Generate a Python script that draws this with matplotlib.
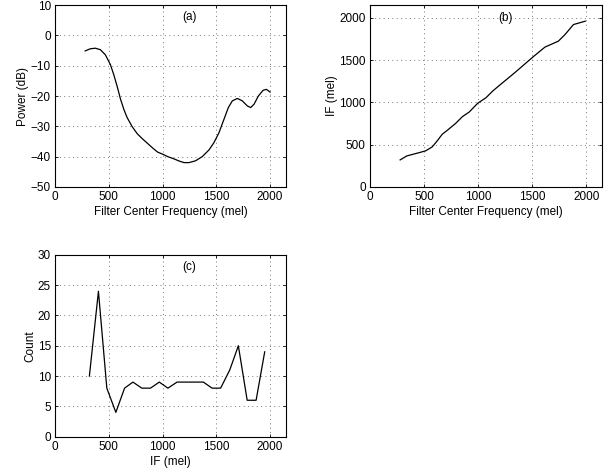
import matplotlib
matplotlib.use("Agg")
import matplotlib.pyplot as plt
import numpy as np

plt.rcParams['font.family'] = ['Liberation Sans', 'DejaVu Sans']
plt.rcParams['font.size'] = 8.5

# (a) power vs filter centre frequency
freq_a = [281, 328, 375, 422, 469, 516, 547, 578, 609, 641, 672, 719, 766, 812, 859,
          906, 953, 1000, 1047, 1109, 1156, 1200, 1245, 1307, 1370, 1432, 1478, 1525,
          1571, 1612, 1649, 1696, 1742, 1789, 1820, 1851, 1891, 1935, 1966, 2000]
power_a = [-5.1, -4.4, -4.2, -4.7, -6.4, -9.7, -13.0, -16.8, -21.0, -24.5, -27.2,
           -30.2, -32.5, -34.1, -35.6, -37.1, -38.5, -39.2, -40.0, -40.8, -41.5, -42.0,
           -42.0, -41.4, -40.0, -37.8, -35.4, -32.1, -27.7, -23.8, -21.6, -20.8, -21.6,
           -23.3, -23.8, -22.7, -20.0, -18.1, -17.8, -18.7]

# (b) IF vs filter centre frequency
freq_b = [279, 341, 435, 513, 575, 621, 668, 715, 793, 855, 918, 995, 1073, 1135,
          1197, 1338, 1509, 1618, 1742, 1804, 1882, 1991]
if_b = [319, 366, 398, 425, 472, 543, 622, 669, 752, 831, 886, 988, 1055, 1134,
        1201, 1350, 1539, 1654, 1724, 1803, 1921, 1961]

# (c) histogram counts of IF
if_c = [320, 404, 482, 566, 647, 725, 807, 888, 970, 1050, 1135, 1215, 1300, 1380,
        1460, 1540, 1625, 1705, 1787, 1870, 1950]
count_c = [10, 24, 8, 4, 8, 9, 8, 8, 9, 8, 9, 9, 9, 9, 8, 8, 11, 15, 6, 6, 14]


def style(ax):
    ax.grid(True, linestyle=(0, (1, 3.5)), color='#777777', linewidth=0.7)
    ax.tick_params(direction='in', top=True, right=True, length=2, width=0.6, pad=3)
    for s in ax.spines.values():
        s.set_linewidth(0.8)
    ax.set_xlim(0, 2150)
    ax.set_xticks([0, 500, 1000, 1500, 2000])


fig = plt.figure(figsize=(6.15, 4.73), dpi=100)

ax1 = fig.add_axes([0.0894, 0.605, 0.376, 0.384])
ax1.plot(freq_a, power_a, color='black', linewidth=0.9)
style(ax1)
ax1.set_ylim(-50, 10)
ax1.set_yticks(np.arange(-50, 11, 10))
ax1.set_xlabel('Filter Center Frequency (mel)', labelpad=2)
ax1.set_ylabel('Power (dB)', labelpad=1)
ax1.text(1250, 6.2, '(a)', ha='center', va='center')

ax2 = fig.add_axes([0.6016, 0.605, 0.378, 0.384])
ax2.plot(freq_b, if_b, color='black', linewidth=0.9)
style(ax2)
ax2.set_ylim(0, 2150)
ax2.set_yticks([0, 500, 1000, 1500, 2000])
ax2.set_xlabel('Filter Center Frequency (mel)', labelpad=2)
ax2.set_ylabel('IF (mel)', labelpad=1)
ax2.text(1250, 2000, '(b)', ha='center', va='center')

ax3 = fig.add_axes([0.0894, 0.077, 0.376, 0.384])
ax3.plot(if_c, count_c, color='black', linewidth=0.9)
style(ax3)
ax3.set_ylim(0, 30)
ax3.set_yticks(np.arange(0, 31, 5))
ax3.set_xlabel('IF (mel)', labelpad=2)
ax3.set_ylabel('Count', labelpad=1)
ax3.text(1250, 28, '(c)', ha='center', va='center')

fig.savefig('out.png', dpi=100)
